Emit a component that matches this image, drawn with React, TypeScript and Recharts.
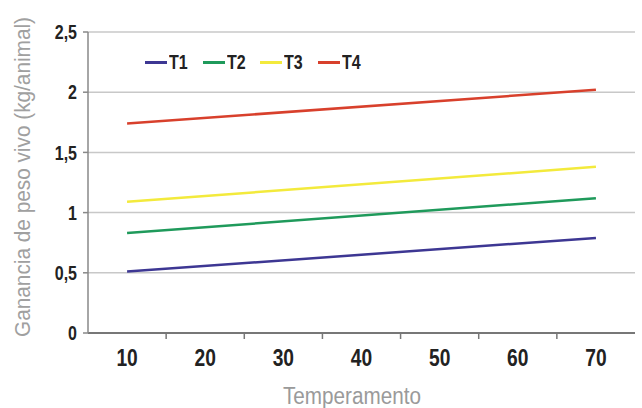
import React from 'react';
import { LineChart, Line, XAxis, YAxis, CartesianGrid, Legend } from 'recharts';

const temperamento = [10, 70];
const t1 = [0.51, 0.79];
const t2 = [0.83, 1.12];
const t3 = [1.09, 1.38];
const t4 = [1.74, 2.02];
const xLabelTicks = [10, 20, 30, 40, 50, 60, 70];
const xMinorTicks = [15, 25, 35, 45, 55, 65];
const yTicks = [0, 0.5, 1, 1.5, 2, 2.5];

const seriesNames = ['T1', 'T2', 'T3', 'T4'];
const seriesColors = ['#3d3793', '#1f9a5b', '#f3ea3c', '#d8402c'];

const data = temperamento.map((x, i) => ({ x, T1: t1[i], T2: t2[i], T3: t3[i], T4: t4[i] }));
const allXTicks = [...xLabelTicks, ...xMinorTicks].sort((a, b) => a - b);

const FONT = "'Liberation Sans', Arial, sans-serif";
const NARROW = 0.8;

const XTick = (props: any) => {
  const { x, y, payload } = props;
  const v = payload.value;
  if (xMinorTicks.includes(v)) {
    return <line x1={x} x2={x} y1={y} y2={y + 6} stroke="#777" strokeWidth={1.5} />;
  }
  return (
    <text
      transform={`translate(${x},${y + 16}) scale(${NARROW},1)`}
      textAnchor="middle"
      dy="0.71em"
      fill="#222"
      fontSize={24}
      fontWeight="bold"
      fontFamily={FONT}
    >
      {String(v)}
    </text>
  );
};

const YTick = (props: any) => {
  const { x, y, payload } = props;
  return (
    <text
      transform={`translate(${x},${y}) scale(${NARROW},1)`}
      textAnchor="end"
      dy="0.355em"
      fill="#222"
      fontSize={20}
      fontWeight="bold"
      fontFamily={FONT}
    >
      {String(payload.value).replace('.', ',')}
    </text>
  );
};

const LegendContent = () => (
  <div style={{ display: 'flex', alignItems: 'center', fontFamily: FONT, fontWeight: 'bold', fontSize: 20, color: '#222', lineHeight: '24px' }}>
    {seriesNames.map((n, i) => (
      <div key={n} style={{ display: 'flex', alignItems: 'center', width: 57.5 }}>
        <div style={{ width: 22, height: 3, background: seriesColors[i], marginRight: 2 }} />
        <span style={{ display: 'inline-block', transform: `scaleX(${NARROW})`, transformOrigin: 'left center' }}>{n}</span>
      </div>
    ))}
  </div>
);

export default function App() {
  return (
    <div style={{ position: 'absolute', left: 0, top: 0, width: 642, height: 408, background: '#fff' }}>
      <LineChart width={642} height={408} data={data} margin={{ top: 32, right: 7, left: 0, bottom: 0 }}>
        <CartesianGrid horizontal vertical={false} stroke="#c8c8c8" strokeWidth={1.5} />
        <XAxis
          dataKey="x"
          type="number"
          domain={[5, 75]}
          ticks={allXTicks}
          interval={0}
          tick={<XTick />}
          tickSize={0}
          tickMargin={0}
          tickLine={false}
          height={75}
          axisLine={{ stroke: '#777', strokeWidth: 2 }}
        />
        <YAxis
          domain={[0, 2.5]}
          ticks={yTicks}
          interval={0}
          width={88}
          tickSize={5}
          tickMargin={6}
          tick={<YTick />}
          tickLine={{ stroke: '#888', strokeWidth: 1.5 }}
          axisLine={{ stroke: '#888', strokeWidth: 1.5 }}
        />
        <Legend
          layout="horizontal"
          verticalAlign="middle"
          align="center"
          content={<LegendContent />}
          wrapperStyle={{ position: 'absolute', top: 50, left: 145, width: 'auto' }}
        />
        {seriesNames.map((n, i) => (
          <Line
            key={n}
            dataKey={n}
            stroke={seriesColors[i]}
            strokeWidth={2.5}
            dot={false}
            activeDot={false}
            isAnimationActive={false}
          />
        ))}
      </LineChart>
      <svg width={642} height={408} style={{ position: 'absolute', left: 0, top: 0, pointerEvents: 'none' }}>
        <text
          transform="translate(30,177) rotate(-90)"
          textAnchor="middle"
          fill="#a0a0a0"
          fontSize={22}
          fontFamily={FONT}
          textLength={320}
          lengthAdjust="spacingAndGlyphs"
        >
          Ganancia de peso vivo (kg/animal)
        </text>
        <text
          x={352}
          y={404}
          textAnchor="middle"
          fill="#9a9a9a"
          fontSize={23}
          fontFamily={FONT}
          textLength={138}
          lengthAdjust="spacingAndGlyphs"
        >
          Temperamento
        </text>
      </svg>
    </div>
  );
}
